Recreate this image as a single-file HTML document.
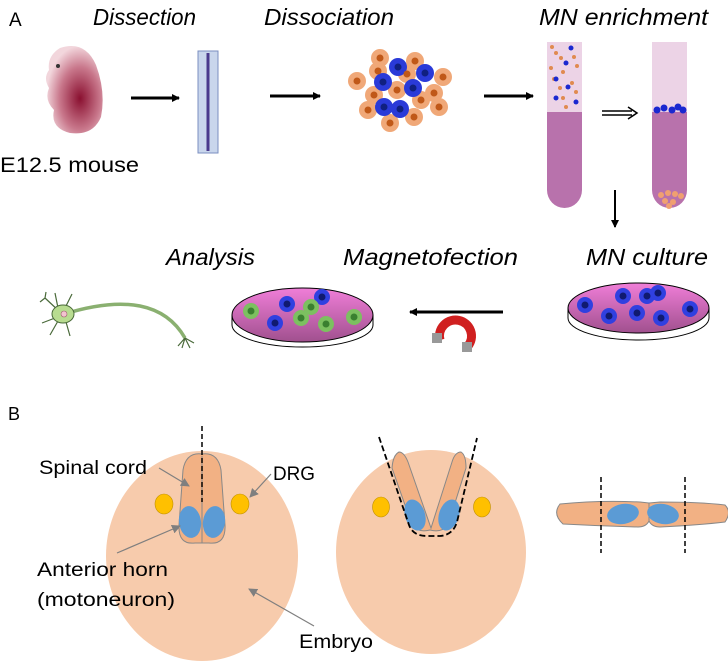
<!DOCTYPE html>
<html><head><meta charset="utf-8"><style>
html,body{margin:0;padding:0;background:#fff;width:728px;height:670px;overflow:hidden}
text{font-family:"Liberation Sans",sans-serif}
.it{font-style:italic;font-size:23px}
.b{font-size:19px}
</style></head><body>
<svg width="728" height="670" viewBox="0 0 728 670" xmlns="http://www.w3.org/2000/svg">
<defs>
<marker id="ah" markerWidth="8" markerHeight="8" refX="7" refY="4" orient="auto" markerUnits="userSpaceOnUse"><path d="M0,0 L8,4 L0,8 z" fill="#000"/></marker>
<marker id="ag" markerWidth="9" markerHeight="9" refX="8" refY="4.5" orient="auto" markerUnits="userSpaceOnUse"><path d="M0,0 L9,4.5 L0,9 z" fill="#7f7f7f"/></marker>
<radialGradient id="mouse" cx="0.6" cy="0.6" r="0.6"><stop offset="0" stop-color="#8a1030"/><stop offset="0.6" stop-color="#c9788c"/><stop offset="1" stop-color="#f2d6dc"/></radialGradient>
<linearGradient id="dish" x1="0" y1="0" x2="0" y2="1"><stop offset="0" stop-color="#f07ed8"/><stop offset="1" stop-color="#a0508e"/></linearGradient>
</defs>
<!-- Part A -->
<text x="9" y="26" font-size="19">A</text>
<text x="93" y="25" class="it" textLength="103" lengthAdjust="spacingAndGlyphs">Dissection</text>
<text x="264" y="25" class="it" textLength="130" lengthAdjust="spacingAndGlyphs">Dissociation</text>
<text x="539" y="25" class="it" textLength="169" lengthAdjust="spacingAndGlyphs">MN enrichment</text>
<text x="0" y="172" font-size="21" textLength="139" lengthAdjust="spacingAndGlyphs">E12.5 mouse</text>
<text x="166" y="265" class="it" textLength="89" lengthAdjust="spacingAndGlyphs">Analysis</text>
<text x="343" y="265" class="it" textLength="175" lengthAdjust="spacingAndGlyphs">Magnetofection</text>
<text x="586" y="265" class="it" textLength="122" lengthAdjust="spacingAndGlyphs">MN culture</text>
<!-- mouse -->
<path d="M60,48 Q85,40 96,65 Q106,92 101,117 Q93,136 70,133 Q50,128 54,110 Q44,100 49,88 Q43,78 49,70 Q47,56 60,48z" fill="url(#mouse)"/>
<circle cx="58" cy="66" r="2" fill="#333"/>
<!-- cord strip -->
<rect x="198" y="51" width="20" height="102" fill="#c9d6ec" stroke="#7b8fc0"/>
<line x1="208" y1="53" x2="208" y2="151" stroke="#4a3a8c" stroke-width="3"/>
<!-- arrows -->
<line x1="131" y1="98" x2="179" y2="98" stroke="#000" stroke-width="3" marker-end="url(#ah)"/>
<line x1="270" y1="96" x2="320" y2="96" stroke="#000" stroke-width="3" marker-end="url(#ah)"/>
<line x1="484" y1="96" x2="533" y2="96" stroke="#000" stroke-width="3" marker-end="url(#ah)"/>
<line x1="602" y1="111" x2="632" y2="111" stroke="#000" stroke-width="1.5"/>
<line x1="602" y1="115" x2="632" y2="115" stroke="#000" stroke-width="1.5"/>
<path d="M628,107 L637,113 L628,119" fill="none" stroke="#000" stroke-width="1.5"/>
<line x1="615" y1="190" x2="615" y2="227" stroke="#000" stroke-width="2" marker-end="url(#ah)"/>
<line x1="503" y1="312" x2="410" y2="312" stroke="#000" stroke-width="3" marker-end="url(#ah)"/>
<!-- cells cluster -->
<g stroke="none">
<g fill="#f0a878">
<circle cx="380" cy="58" r="9"/><circle cx="415" cy="61" r="9"/><circle cx="378" cy="71" r="9"/><circle cx="407" cy="74" r="9"/><circle cx="443" cy="77" r="9"/><circle cx="357" cy="81" r="9"/><circle cx="397" cy="90" r="9"/><circle cx="374" cy="95" r="9"/><circle cx="434" cy="93" r="9"/><circle cx="421" cy="100" r="9"/><circle cx="439" cy="107" r="9"/><circle cx="368" cy="110" r="9"/><circle cx="414" cy="117" r="9"/><circle cx="390" cy="123" r="9"/></g>
<g fill="#2a3ad8"><circle cx="398" cy="67" r="9"/><circle cx="425" cy="73" r="9"/><circle cx="383" cy="82" r="9"/><circle cx="413" cy="88" r="9"/><circle cx="384" cy="107" r="9"/><circle cx="400" cy="109" r="9"/></g>
<g fill="#102080"><circle cx="398" cy="67" r="3.5"/><circle cx="425" cy="73" r="3.5"/><circle cx="383" cy="82" r="3.5"/><circle cx="413" cy="88" r="3.5"/><circle cx="384" cy="107" r="3.5"/><circle cx="400" cy="109" r="3.5"/></g>
<g fill="#c05818"><circle cx="380" cy="58" r="3.5"/><circle cx="415" cy="61" r="3.5"/><circle cx="378" cy="71" r="3.5"/><circle cx="407" cy="74" r="3.5"/><circle cx="443" cy="77" r="3.5"/><circle cx="357" cy="81" r="3.5"/><circle cx="397" cy="90" r="3.5"/><circle cx="374" cy="95" r="3.5"/><circle cx="434" cy="93" r="3.5"/><circle cx="421" cy="100" r="3.5"/><circle cx="439" cy="107" r="3.5"/><circle cx="368" cy="110" r="3.5"/><circle cx="414" cy="117" r="3.5"/><circle cx="390" cy="123" r="3.5"/></g>
</g>
<!-- tubes -->
<path d="M547,42 H582 V190 A17.5,18 0 0 1 547,190 Z" fill="#b872ac"/>
<rect x="547" y="42" width="35" height="70" fill="#ecd3e6"/>
<g fill="#e08a50"><circle cx="552" cy="47" r="2"/><circle cx="556" cy="53" r="2"/><circle cx="561" cy="58" r="2"/><circle cx="574" cy="57" r="2"/><circle cx="551" cy="68" r="2"/><circle cx="563" cy="72" r="2"/><circle cx="577" cy="66" r="2"/><circle cx="560" cy="88" r="2"/><circle cx="572" cy="83" r="2"/><circle cx="576" cy="92" r="2"/><circle cx="563" cy="98" r="2"/><circle cx="566" cy="107" r="2"/><circle cx="554" cy="79" r="2"/></g>
<g fill="#1a28d0"><circle cx="571" cy="48" r="2.5"/><circle cx="566" cy="63" r="2.5"/><circle cx="556" cy="79" r="2.5"/><circle cx="568" cy="87" r="2.5"/><circle cx="556" cy="98" r="2.5"/><circle cx="576" cy="102" r="2.5"/></g>
<path d="M652,42 H687 V190 A17.5,18 0 0 1 652,190 Z" fill="#b872ac"/>
<rect x="652" y="42" width="35" height="70" fill="#ecd3e6"/>
<g fill="#1a28d0"><circle cx="657" cy="110" r="3.5"/><circle cx="664" cy="108" r="3.5"/><circle cx="672" cy="110" r="3.5"/><circle cx="678" cy="107" r="3.5"/><circle cx="683" cy="110" r="3.5"/></g>
<g fill="#f0a070"><circle cx="661" cy="195" r="3"/><circle cx="668" cy="193" r="3"/><circle cx="675" cy="194" r="3"/><circle cx="681" cy="196" r="3"/><circle cx="665" cy="201" r="3"/><circle cx="673" cy="202" r="3"/><circle cx="669" cy="206" r="3"/></g>
<!-- dish MN culture -->
<path d="M568,308 V318 A70.5,22 0 0 0 709,318 V308" fill="#fff" stroke="#000"/>
<ellipse cx="638.5" cy="308" rx="70.5" ry="25" fill="url(#dish)" stroke="#000"/>
<g fill="#3040e0"><circle cx="585" cy="305" r="8"/><circle cx="623" cy="296" r="8"/><circle cx="647" cy="296" r="8"/><circle cx="658" cy="293" r="8"/><circle cx="609" cy="316" r="8"/><circle cx="637" cy="313" r="8"/><circle cx="661" cy="318" r="8"/><circle cx="690" cy="309" r="8"/></g>
<g fill="#101a70"><circle cx="585" cy="305" r="3.5"/><circle cx="623" cy="296" r="3.5"/><circle cx="647" cy="296" r="3.5"/><circle cx="658" cy="293" r="3.5"/><circle cx="609" cy="316" r="3.5"/><circle cx="637" cy="313" r="3.5"/><circle cx="661" cy="318" r="3.5"/><circle cx="690" cy="309" r="3.5"/></g>
<!-- dish magnetofection -->
<path d="M232,315 V325 A70.5,22 0 0 0 373,325 V315" fill="#fff" stroke="#000"/>
<ellipse cx="302.5" cy="315" rx="70.5" ry="27" fill="url(#dish)" stroke="#000"/>
<g fill="#3040e0"><circle cx="287" cy="304" r="8"/><circle cx="322" cy="297" r="8"/><circle cx="275" cy="323" r="8"/></g>
<g fill="#101a70"><circle cx="287" cy="304" r="3.5"/><circle cx="322" cy="297" r="3.5"/><circle cx="275" cy="323" r="3.5"/></g>
<g fill="#7cc060"><circle cx="251" cy="311" r="8"/><circle cx="311" cy="307" r="8"/><circle cx="301" cy="318" r="8"/><circle cx="326" cy="324" r="8"/><circle cx="354" cy="317" r="8"/></g>
<g fill="#3a8030"><circle cx="251" cy="311" r="3.5"/><circle cx="311" cy="307" r="3.5"/><circle cx="301" cy="318" r="3.5"/><circle cx="326" cy="324" r="3.5"/><circle cx="354" cy="317" r="3.5"/></g>
<!-- magnet -->
<path d="M440,340 A16,16 0 1 1 468,346" fill="none" stroke="#d02020" stroke-width="9"/>
<rect x="432" y="333" width="10" height="10" fill="#999"/><rect x="462" y="342" width="10" height="10" fill="#999"/>
<!-- neuron -->
<path d="M64,314 Q110,300 140,306 Q170,312 185,338" fill="none" stroke="#8ab070" stroke-width="3.5"/>
<g stroke="#4a6a3a" stroke-width="1.2" fill="none"><path d="M60,312 L45,298 M58,308 L55,293 M66,306 L72,294 M55,318 L42,323 M58,321 L50,335 M66,322 L70,336 M45,298 L40,302 M45,298 L46,292 M185,338 L178,346 M185,338 L190,348 M185,338 L194,343 M185,338 L182,348"/></g>
<ellipse cx="63" cy="314" rx="11" ry="9" fill="#b8dc90" stroke="#4a6a3a"/>
<circle cx="64" cy="314" r="3" fill="#f3c3d0" stroke="#a06070" stroke-width="0.6"/>
<!-- Part B -->
<text x="8" y="420" font-size="18">B</text>
<ellipse cx="202" cy="556" rx="96" ry="105" fill="#f7cbac"/>
<path d="M202,454 Q186,452 183,470 L179,525 Q178,545 195,543 L209,543 Q226,545 225,525 L221,470 Q218,452 202,454Z" fill="#f2b184" stroke="#888"/>
<line x1="202" y1="456" x2="202" y2="543" stroke="#888"/>
<ellipse cx="190" cy="522" rx="11" ry="16" fill="#5b9bd5" transform="rotate(-8 190 522)"/>
<ellipse cx="214" cy="522" rx="11" ry="16" fill="#5b9bd5" transform="rotate(8 214 522)"/>
<ellipse cx="164" cy="504" rx="9" ry="10" fill="#ffc000" stroke="#c09000" stroke-width="0.6"/>
<ellipse cx="240" cy="504" rx="9" ry="10" fill="#ffc000" stroke="#c09000" stroke-width="0.6"/>
<line x1="202" y1="426" x2="202" y2="502" stroke="#000" stroke-width="1.5" stroke-dasharray="5,3"/>
<text x="39" y="474" class="b" textLength="108" lengthAdjust="spacingAndGlyphs">Spinal cord</text>
<text x="273" y="480" class="b" textLength="42" lengthAdjust="spacingAndGlyphs">DRG</text>
<text x="37" y="576" class="b" textLength="131" lengthAdjust="spacingAndGlyphs">Anterior horn</text>
<text x="37" y="606" class="b" textLength="138" lengthAdjust="spacingAndGlyphs">(motoneuron)</text>
<text x="299" y="648" class="b" textLength="74" lengthAdjust="spacingAndGlyphs">Embryo</text>
<g stroke="#7f7f7f" stroke-width="1.2"><line x1="159" y1="468" x2="189" y2="486" marker-end="url(#ag)"/><line x1="271" y1="474" x2="250" y2="497" marker-end="url(#ag)"/><line x1="117" y1="553" x2="180" y2="526" marker-end="url(#ag)"/><line x1="314" y1="626" x2="249" y2="589" marker-end="url(#ag)"/></g>
<ellipse cx="431" cy="552" rx="95" ry="102" fill="#f7cbac"/>
<path d="M399,452 Q393,455 392,468 L412,525 Q418,533 430,530 Q442,533 448,525 L466,468 Q466,455 461,452 Q455,452 452,462 L431,528 L408,462 Q404,452 399,452Z" fill="#f2b184" stroke="#888"/>
<ellipse cx="415" cy="515" rx="10" ry="16" fill="#5b9bd5" transform="rotate(-18 415 515)"/>
<ellipse cx="449" cy="515" rx="10" ry="16" fill="#5b9bd5" transform="rotate(18 449 515)"/>
<ellipse cx="381" cy="507" rx="8.5" ry="10" fill="#ffc000" stroke="#c09000" stroke-width="0.6"/>
<ellipse cx="482" cy="507" rx="8.5" ry="10" fill="#ffc000" stroke="#c09000" stroke-width="0.6"/>
<path d="M379,437 L409,525 Q413,536 427,536 L440,536 Q453,535 457,522 L477,438" fill="none" stroke="#000" stroke-width="1.8" stroke-dasharray="6,3"/>
<path d="M560,504 Q600,500 640,502 L649,503 L660,502 Q700,502 725,505 Q732,512 725,522 Q700,525 660,527 Q652,527 649,521 Q646,527 638,527 Q600,526 563,524 Q552,514 560,504Z" fill="#f2b184" stroke="#888"/>
<line x1="649" y1="503" x2="649" y2="521" stroke="#888"/>
<ellipse cx="623" cy="514" rx="16" ry="10" fill="#5b9bd5" transform="rotate(-10 623 514)"/>
<ellipse cx="663" cy="514" rx="16" ry="10" fill="#5b9bd5" transform="rotate(10 663 514)"/>
<line x1="601" y1="477" x2="601" y2="553" stroke="#000" stroke-width="1.5" stroke-dasharray="5,3"/>
<line x1="685" y1="477" x2="685" y2="553" stroke="#000" stroke-width="1.5" stroke-dasharray="5,3"/>
</svg>
</body></html>
